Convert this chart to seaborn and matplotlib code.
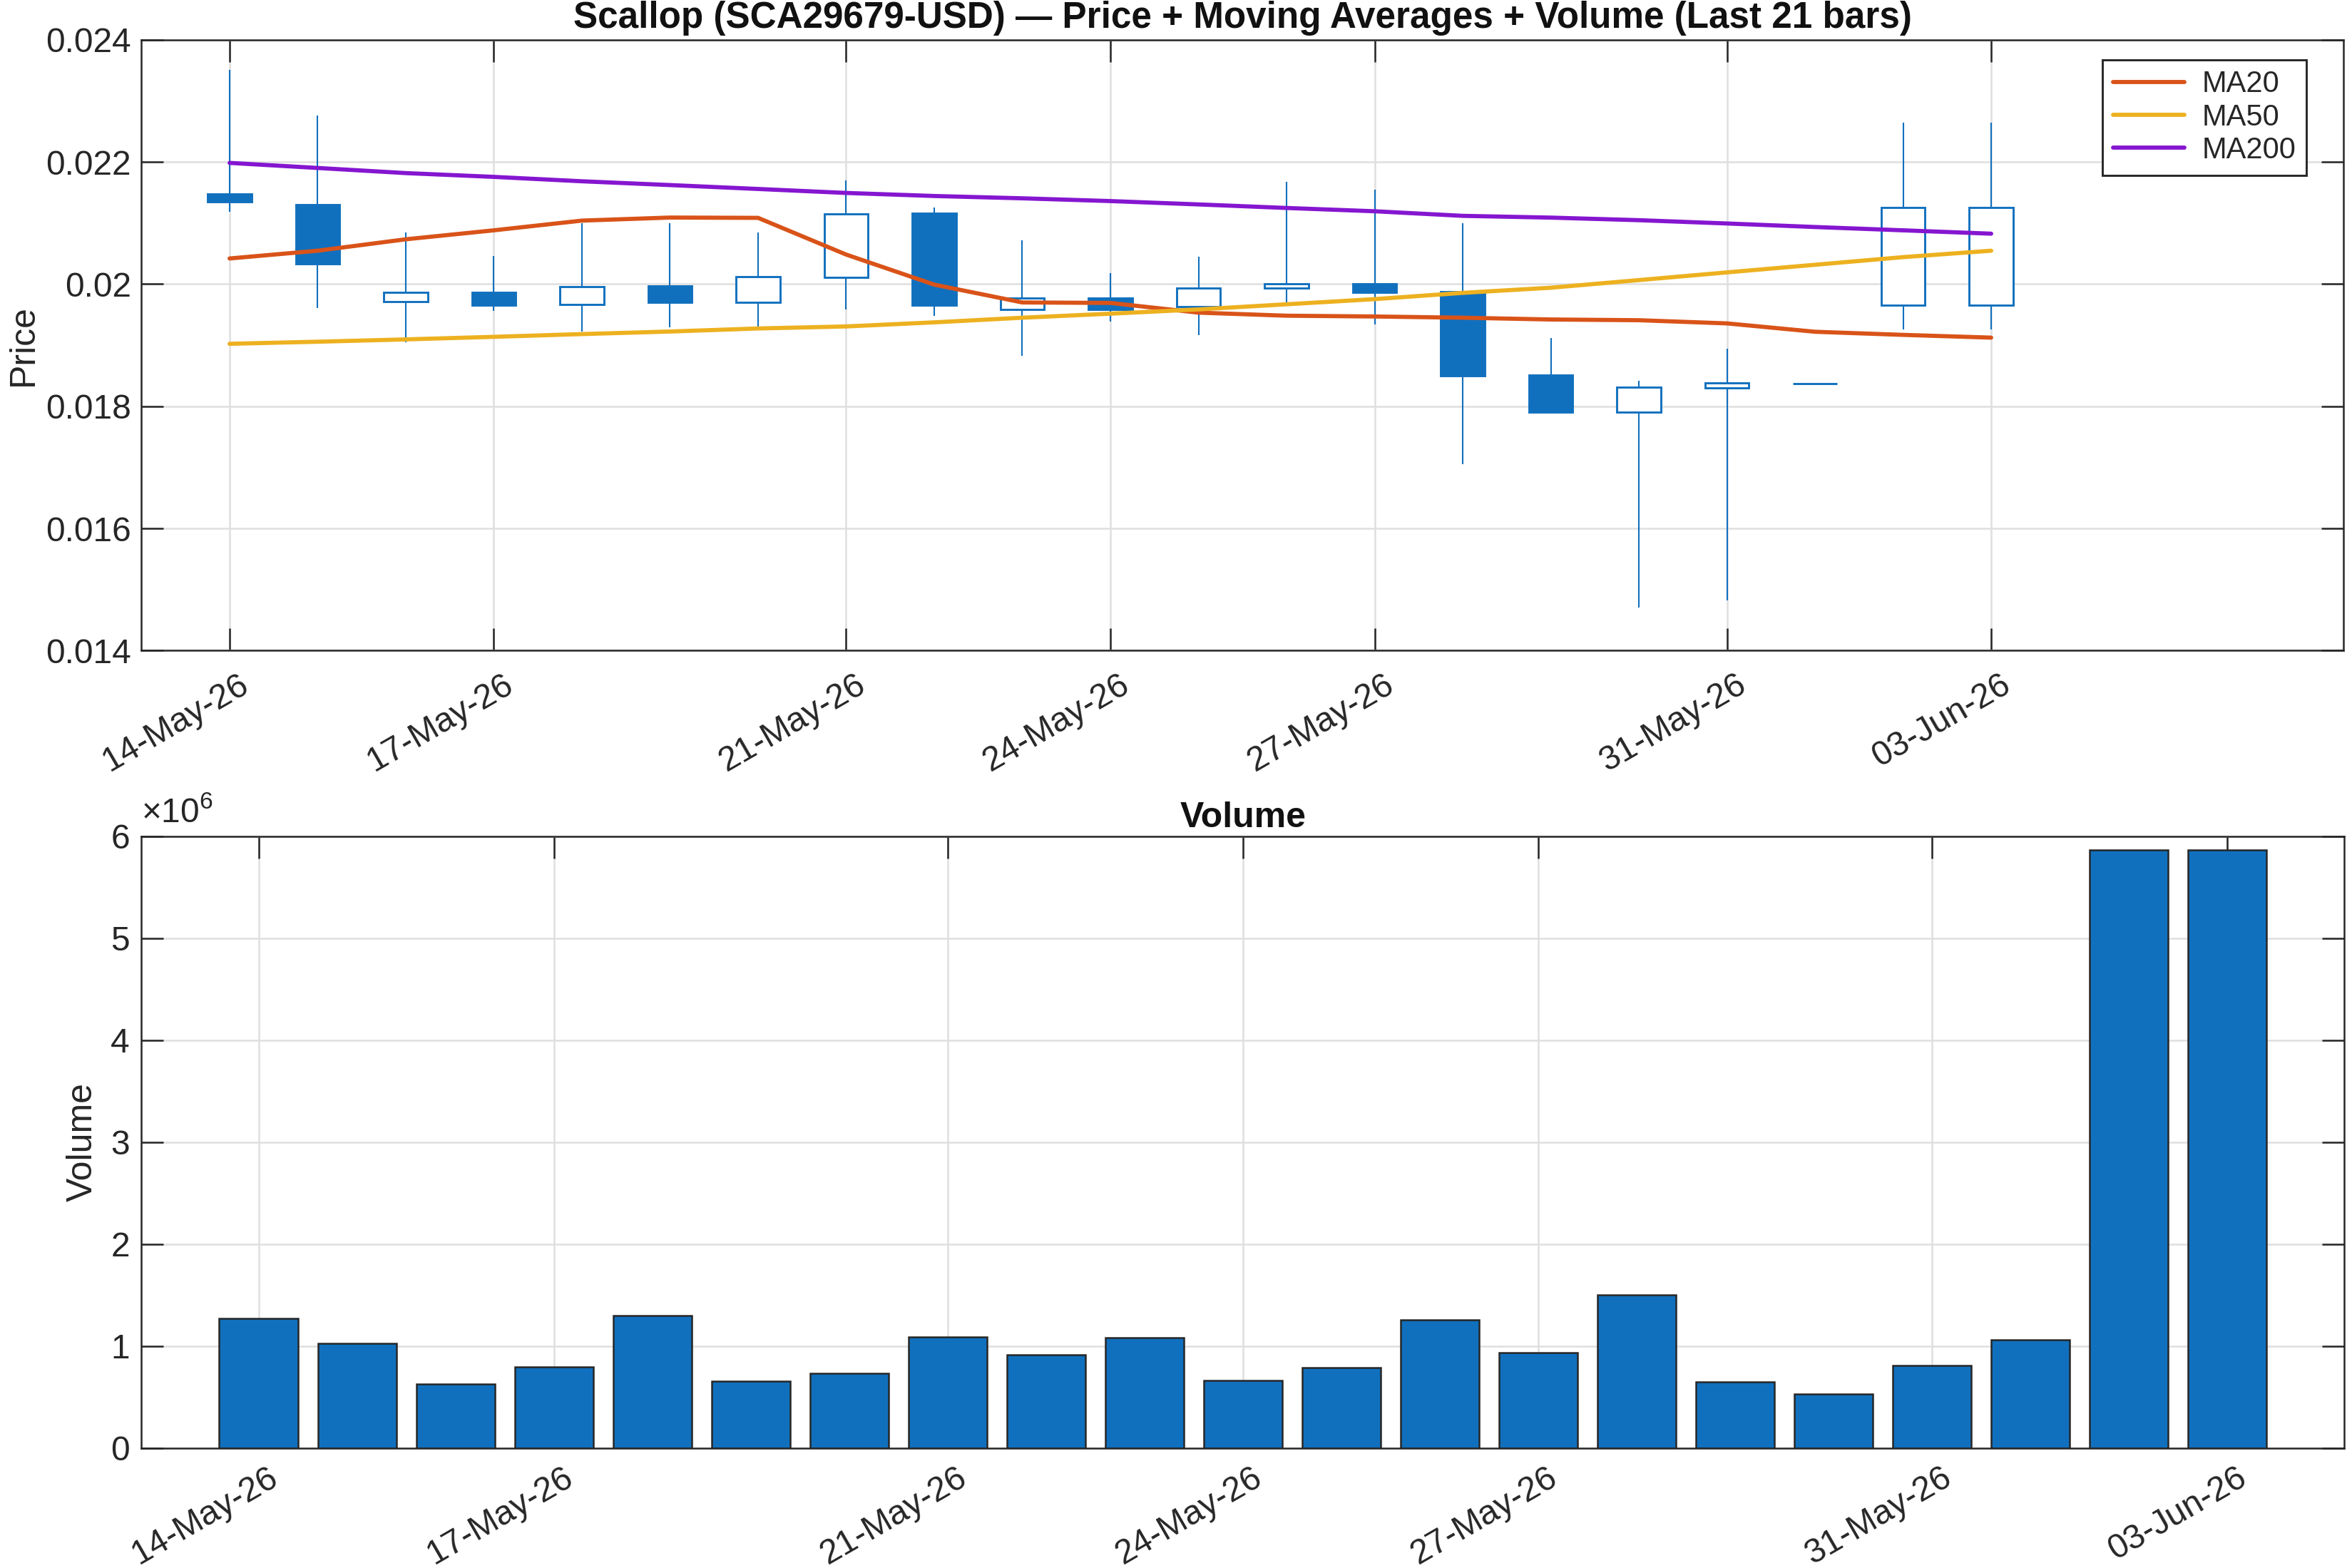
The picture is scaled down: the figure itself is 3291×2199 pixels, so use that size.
import numpy as np
import pandas as pd
import matplotlib
matplotlib.use("Agg")
import matplotlib.pyplot as plt
import matplotlib.dates as mdates
import matplotlib.transforms as mtransforms
from matplotlib.ticker import FixedLocator, FuncFormatter
import seaborn as sns

# ---------------- data ----------------
dates = pd.date_range("2026-05-14", "2026-06-03", freq="D")
opens = [0.02148, 0.02130, 0.01971, 0.01987, 0.01967, 0.01997, 0.01970,
         0.02011, 0.02116, 0.01959, 0.01977, 0.01963, 0.01993, 0.02000,
         0.01988, 0.01851, 0.01790, 0.01830, 0.01837, 0.01965, 0.01965]
closes = [0.02135, 0.02033, 0.01987, 0.01966, 0.01996, 0.01970, 0.02012,
          0.02115, 0.01966, 0.01977, 0.01959, 0.01993, 0.02000, 0.01986,
          0.01850, 0.01790, 0.01831, 0.01838, 0.01837, 0.02126, 0.02126]
highs = [0.02351, 0.02276, 0.02085, 0.02046, 0.02100, 0.02100, 0.02085,
         0.02170, 0.02125, 0.02072, 0.02018, 0.02045, 0.02167, 0.02155,
         0.02100, 0.01912, 0.01842, 0.01894, 0.01837, 0.02264, 0.02264]
lows = [0.02119, 0.01961, 0.01905, 0.01956, 0.01922, 0.01929, 0.01930,
        0.01959, 0.01948, 0.01883, 0.01939, 0.01916, 0.01970, 0.01934,
        0.01705, 0.01790, 0.01471, 0.01482, 0.01837, 0.01926, 0.01926]
ma20 = [0.020420, 0.020547, 0.020734, 0.020881, 0.021040, 0.021090, 0.021085,
        0.020484, 0.019992, 0.019700, 0.019692, 0.019533, 0.019483, 0.019470,
        0.019450, 0.019421, 0.019409, 0.019357, 0.019220, 0.019169, 0.019124]
ma50 = [0.019023, 0.019057, 0.019095, 0.019137, 0.019182, 0.019224, 0.019274,
        0.019307, 0.019374, 0.019450, 0.019516, 0.019586, 0.019670, 0.019754,
        0.019857, 0.019941, 0.020066, 0.020192, 0.020317, 0.020442, 0.020547]
ma200 = [0.021985, 0.021902, 0.021818, 0.021756, 0.021684, 0.021622, 0.021558,
         0.021493, 0.021443, 0.021405, 0.021360, 0.021305, 0.021247, 0.021193,
         0.021118, 0.021089, 0.021047, 0.020993, 0.020935, 0.020881, 0.020826]
volumes = [1.274e6, 1.029e6, 0.632e6, 0.799e6, 1.299e6, 0.656e6, 0.735e6,
           1.092e6, 0.913e6, 1.083e6, 0.663e6, 0.790e6, 1.256e6, 0.936e6,
           1.505e6, 0.652e6, 0.534e6, 0.814e6, 1.064e6, 5.868e6, 5.868e6]
tick_dates = ["2026-05-14", "2026-05-17", "2026-05-21", "2026-05-24",
              "2026-05-27", "2026-05-31", "2026-06-03"]
price_ticks = [0.014, 0.016, 0.018, 0.020, 0.022, 0.024]
volume_ticks = [0, 1e6, 2e6, 3e6, 4e6, 5e6, 6e6]
title_main = "Scallop (SCA29679-USD) \u2014 Price + Moving Averages + Volume (Last 21 bars)"

# ---------------- style ----------------
BLUE = "#1170BE"
C_MA20 = "#D95319"
C_MA50 = "#EDB120"
C_MA200 = "#8516D0"
DARK = "#262626"
GRID = "#DFDFDF"

sns.set_theme(style="white")
plt.rcParams["font.family"] = ["Liberation Sans", "DejaVu Sans"]
plt.rcParams["mathtext.fontset"] = "custom"
plt.rcParams["mathtext.rm"] = "Liberation Sans"
plt.rcParams["mathtext.it"] = "Liberation Sans:italic"
plt.rcParams["mathtext.bf"] = "Liberation Sans:bold"

fig = plt.figure(figsize=(3291 / 300, 2199 / 300), dpi=300)
ax1 = fig.add_axes([0.0603, 0.5851, 0.9382, 0.3895])
ax2 = fig.add_axes([0.0603, 0.0764, 0.9386, 0.3902])

def style_axes(ax):
    ax.set_facecolor("white")
    for s in ax.spines.values():
        s.set_visible(True)
        s.set_color(DARK)
        s.set_linewidth(0.6)
    ax.set_axisbelow(True)
    ax.grid(True, color=GRID, linewidth=0.6)
    ax.tick_params(direction="in", length=7.5, width=0.6, color=DARK,
                   labelsize=11.5, labelcolor=DARK, top=True, right=True,
                   bottom=True, left=True)
    ax.tick_params(axis="y", pad=3.5)
    ax.tick_params(axis="x", pad=6)

# ---------------- price panel ----------------
x = mdates.date2num(dates.to_pydatetime())
o = np.array(opens); c = np.array(closes)
body_bottom = np.minimum(o, c)
body_height = np.abs(c - o)
faces = [BLUE if cc < oo else "white" for oo, cc in zip(o, c)]

ax1.vlines(x, lows, highs, color=BLUE, linewidth=0.5, zorder=2)
ax1.bar(x, body_height, bottom=body_bottom, width=0.5, color=faces,
        edgecolor=BLUE, linewidth=0.7, zorder=3)

ma_df = pd.DataFrame({
    "x": np.concatenate([x, x, x]),
    "value": ma20 + ma50 + ma200,
    "series": ["MA20"] * len(x) + ["MA50"] * len(x) + ["MA200"] * len(x),
})
sns.lineplot(data=ma_df, x="x", y="value", hue="series",
             hue_order=["MA20", "MA50", "MA200"],
             palette={"MA20": C_MA20, "MA50": C_MA50, "MA200": C_MA200},
             linewidth=1.4, ax=ax1, zorder=4, legend=True)

ax1.set_xlim(mdates.date2num(pd.Timestamp("2026-05-13")),
             mdates.date2num(pd.Timestamp("2026-06-07")))
ax1.set_ylim(0.014, 0.024)
ax1.xaxis.set_major_locator(FixedLocator(mdates.date2num(pd.to_datetime(tick_dates).to_pydatetime())))
ax1.xaxis.set_major_formatter(mdates.DateFormatter("%d-%b-%y"))
ax1.yaxis.set_major_locator(FixedLocator(price_ticks))
ax1.yaxis.set_major_formatter(FuncFormatter(lambda v, p: f"{v:g}"))
style_axes(ax1)
ax1.set_xlabel("")
ax1.set_ylabel("Price", fontsize=12, color=DARK, labelpad=2)
ax1.set_title(title_main, fontsize=12.3, fontweight="bold", color="#111111", pad=4)

handles, labels = ax1.get_legend_handles_labels()
leg = ax1.legend(handles, labels, loc="upper right",
                 bbox_to_anchor=(0.9832, 0.9673), borderaxespad=0,
                 frameon=True, fancybox=False, fontsize=10,
                 handlelength=2.4, labelspacing=0.15, borderpad=0.35,
                 handletextpad=0.6)
leg.get_frame().set_edgecolor(DARK)
leg.get_frame().set_linewidth(0.7)
leg.get_frame().set_alpha(1)
for t in leg.get_texts():
    t.set_color(DARK)

# ---------------- volume panel ----------------
vol_df = pd.DataFrame({"date": dates.strftime("%Y-%m-%d"), "volume": volumes})
sns.barplot(data=vol_df, x="date", y="volume", order=list(vol_df["date"]),
            color=BLUE, saturation=1, edgecolor=DARK, linewidth=0.6,
            width=0.8, ax=ax2)
ax2.set_xlim(-1.19, len(volumes) - 1 + 1.19)
ax2.set_ylim(0, 6e6)
pos = [list(vol_df["date"]).index(d) for d in tick_dates]
ax2.xaxis.set_major_locator(FixedLocator(pos))
ax2.set_xticklabels([pd.Timestamp(d).strftime("%d-%b-%y") for d in tick_dates])
ax2.yaxis.set_major_locator(FixedLocator(volume_ticks))
ax2.yaxis.set_major_formatter(FuncFormatter(lambda v, p: f"{v / 1e6:g}"))
style_axes(ax2)
ax2.tick_params(axis="y", pad=4)
ax2.tick_params(axis="x", pad=4.5)
ax2.set_xlabel("")
ax2.set_ylabel("Volume", fontsize=12, color=DARK, labelpad=4)
ax2.set_title("Volume", fontsize=12, fontweight="bold", color="#111111", pad=3)
ax2.annotate("\u00d710$^{6}$", xy=(0, 1), xycoords="axes fraction",
             xytext=(0, 2.5), textcoords="offset points",
             ha="left", va="bottom", fontsize=11.5, color=DARK)

for ax in (ax1, ax2):
    shift = mtransforms.ScaledTranslation(3 / 72, 0, fig.dpi_scale_trans)
    for lbl in ax.get_xticklabels():
        lbl.set_rotation(30)
        lbl.set_ha("right")
        lbl.set_va("top")
        lbl.set_rotation_mode("anchor")
        lbl.set_transform(lbl.get_transform() + shift)

fig.savefig("out.png", dpi=300, facecolor="white")
